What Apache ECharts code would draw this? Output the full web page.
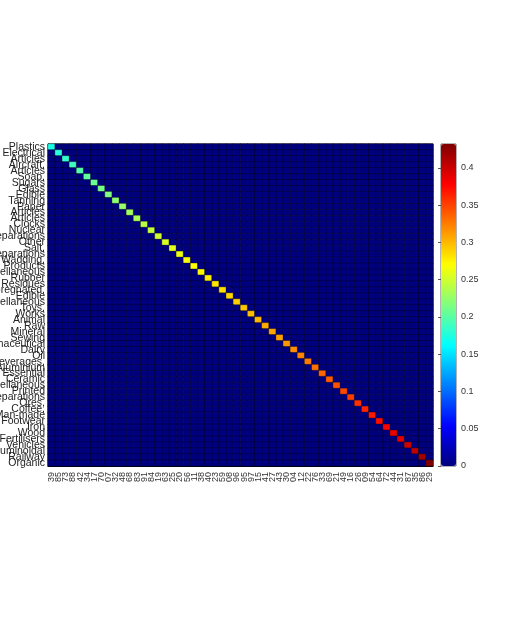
<!DOCTYPE html>
<html>
<head>
<meta charset="utf-8">
<script src="https://cdn.jsdelivr.net/npm/echarts@6/dist/echarts.min.js"></script>
<style>
  html, body { margin: 0; padding: 0; background: #fff; }
  #chart { width: 522px; height: 623px; }
</style>
</head>
<body>
<div id="chart"></div>
<script>
// row names (top to bottom) and the matching column codes (left to right)
var rowNames = ['Plastics', 'Electrical', 'Articles', 'Aircraft,', 'Articles', 'Soap,', 'Sugars',
  'Glass', 'Edible', 'Tanning', 'Paper', 'Articles', 'Articles', 'Clocks', 'Nuclear', 'Preparations',
  'Other', 'Salt,', 'Preparations', 'Wadding,', 'Products', 'Miscellaneous', 'Rubber', 'Residues',
  'Impregnated,', 'Edible', 'Miscellaneous', 'Toys,', 'Works', 'Animal', 'Raw', 'Mineral', 'Sewing',
  'Pharmaceutical', 'Dairy', 'Oil', 'Beverages,', 'Aluminium', 'Essential', 'Ceramic', 'Miscellaneous',
  'Printed', 'Preparations', 'Ores,', 'Coffee,', 'Man-made', 'Footwear', 'Iron', 'Wood', 'Fertilisers',
  'Vehicles', 'Albuminoidal', 'Railway', 'Organic']
var colCodes = ['39', '85', '73', '88', '42', '34', '17', '70', '07', '32', '48', '68', '83', '91',
  '84', '19', '63', '25', '20', '56', '11', '38', '40', '23', '59', '08', '96', '95', '97', '15',
  '41', '27', '43', '30', '04', '12', '22', '76', '33', '69', '21', '49', '16', '26', '09', '54',
  '64', '72', '44', '31', '87', '35', '86', '29']
// values on the diagonal
var diagValues = [0.172, 0.178, 0.183, 0.19, 0.197, 0.203, 0.208, 0.212, 0.217, 0.222, 0.226, 0.23,
  0.235, 0.24, 0.245, 0.25, 0.254, 0.258, 0.262, 0.266, 0.27, 0.273, 0.277, 0.28, 0.284, 0.287,
  0.29, 0.294, 0.297, 0.3, 0.304, 0.307, 0.31, 0.314, 0.318, 0.322, 0.326, 0.331, 0.335, 0.339,
  0.344, 0.348, 0.353, 0.358, 0.363, 0.368, 0.373, 0.379, 0.385, 0.391, 0.398, 0.406, 0.416, 0.432]
var offDiagValue = 0
var colorMax = 0.432
var colorStep = 0.05
var jet = ['#00007f', '#0000ff', '#007fff', '#00ffff', '#7fff7f', '#ffff00', '#ff7f00', '#ff0000', '#7f0000']

var cells = []
for (var i = 0; i < rowNames.length; i++) {
  for (var j = 0; j < colCodes.length; j++) {
    cells.push([j, i, i === j ? diagValues[i] : offDiagValue])
  }
}

var myChart = echarts.init(document.getElementById('chart'))
myChart.setOption({
  animation: false,
  textStyle: { fontFamily: 'Liberation Sans, Arial, sans-serif' },
  grid: [
    { left: 48, top: 144, width: 385, height: 322, outerBoundsMode: 'none', containLabel: false, show: true, borderColor: '#000', borderWidth: 1, backgroundColor: 'transparent' },
    { left: 441, top: 144, width: 15, height: 322, outerBoundsMode: 'none', containLabel: false, show: true, borderColor: '#666', borderWidth: 1, backgroundColor: 'transparent' }
  ],
  xAxis: [
    {
      type: 'category',
      gridIndex: 0,
      data: colCodes,
      axisLine: { show: true, lineStyle: { color: '#000', width: 1 } },
      axisTick: { show: false },
      axisLabel: { interval: 0, rotate: 90, fontSize: 9, color: '#333', margin: 6 },
      splitLine: { show: false }
    },
    { type: 'value', gridIndex: 1, show: false, min: 0, max: 1 }
  ],
  yAxis: [
    {
      type: 'category',
      gridIndex: 0,
      inverse: true,
      data: rowNames,
      axisLine: { show: true, lineStyle: { color: '#000', width: 1 } },
      axisTick: { show: false },
      axisLabel: { interval: 0, fontSize: 10.5, color: '#222', margin: 3 },
      splitLine: { show: false }
    },
    {
      type: 'value',
      gridIndex: 1,
      position: 'right',
      min: 0,
      max: colorMax,
      interval: colorStep,
      axisLine: { show: false },
      axisTick: { show: true, inside: true, length: 3, lineStyle: { color: '#555' } },
      axisLabel: {
        fontSize: 9,
        color: '#333',
        margin: 5,
        showMaxLabel: false,
        formatter: function (v) { return String(+v.toFixed(2)) }
      },
      splitLine: { show: false }
    }
  ],
  visualMap: {
    type: 'continuous',
    min: 0,
    max: colorMax,
    calculable: false,
    orient: 'vertical',
    left: 441,
    top: 144,
    itemWidth: 15,
    itemHeight: 322,
    padding: 0,
    text: null,
    seriesIndex: 0,
    inRange: { color: jet }
  },
  series: [{
    type: 'heatmap',
    xAxisIndex: 0,
    yAxisIndex: 0,
    data: cells,
    itemStyle: { borderColor: 'rgba(0,0,0,0.55)', borderWidth: 0.6 },
    emphasis: { disabled: true }
  }]
})
window.addEventListener('resize', function () {
  myChart.resize()
})
</script>
</body>
</html>
